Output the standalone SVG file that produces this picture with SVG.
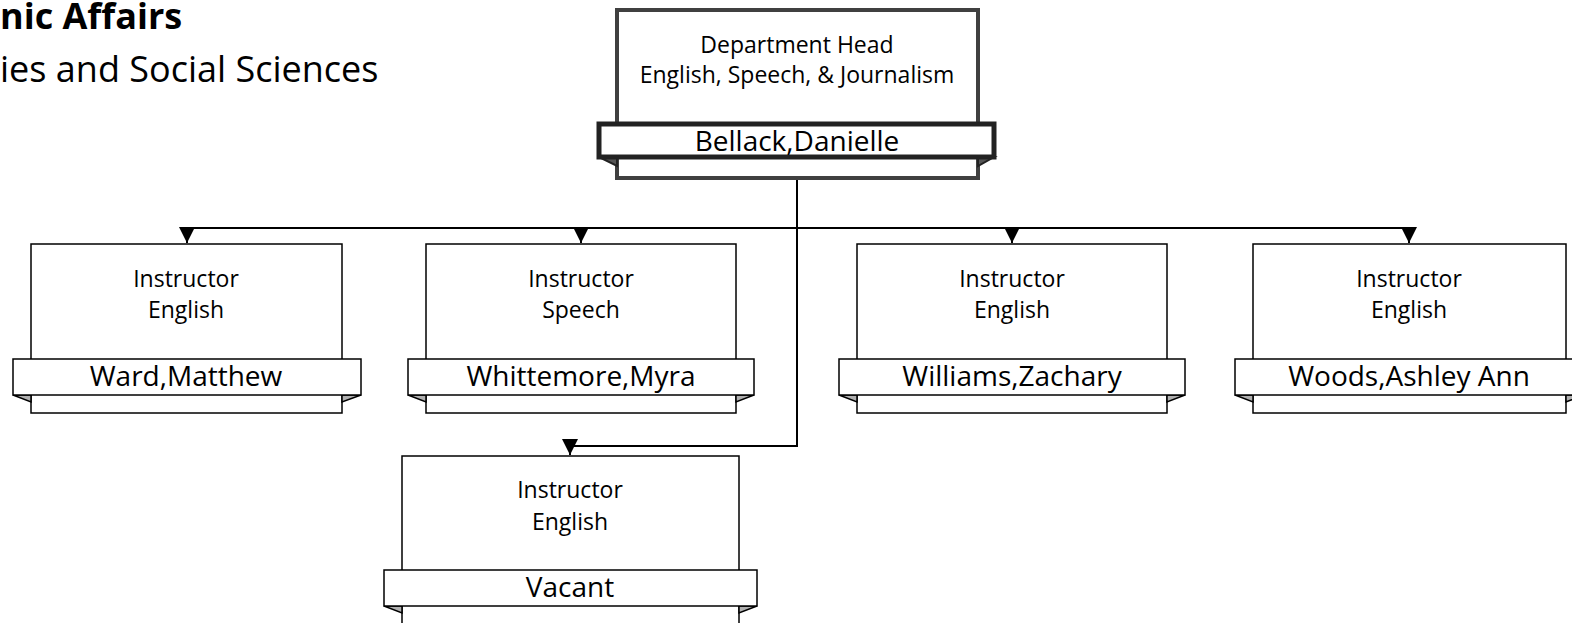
<svg xmlns="http://www.w3.org/2000/svg" width="1572" height="623" viewBox="0 0 1572 623">
<style>
text{font-family:"Open Sans","Noto Sans",sans-serif;fill:#000}
.t{font-size:23px;text-anchor:middle}
.n{font-size:28px;text-anchor:middle}
.box{fill:#fff;stroke:#000;stroke-width:1.5}
.ban{fill:#fff;stroke:#000;stroke-width:1.5}
.fold{fill:#b0b0b0;stroke:#000;stroke-width:1.5}
.hbox{fill:#fff;stroke:#404040;stroke-width:4}
.hban{fill:#fff;stroke:#222;stroke-width:5}
.hfold{fill:#555;stroke:#222;stroke-width:2}
.c{fill:none;stroke:#000;stroke-width:2}
</style>
<defs>
<marker id="a" markerWidth="16" markerHeight="16" viewBox="0 0 16 16" refX="16" refY="8" orient="auto" markerUnits="userSpaceOnUse">
<path d="M0,0 L16,8 L0,16 Z" fill="#000"/>
</marker>
</defs>
<g id="title">
<text x="0" y="29" style="font-size:36px;font-weight:bold">nic Affairs</text>
<text x="0" y="82" style="font-size:36px">ies and Social Sciences</text>
</g>
<g id="connectors">
<path class="c" d="M797,180 V446 H570"/>
<path class="c" d="M570,446 V455" marker-end="url(#a)"/>
<path class="c" d="M187,228 H1409"/>
<path class="c" d="M187,228 V243" marker-end="url(#a)"/>
<path class="c" d="M581,228 V243" marker-end="url(#a)"/>
<path class="c" d="M1012,228 V243" marker-end="url(#a)"/>
<path class="c" d="M1409,228 V243" marker-end="url(#a)"/>
</g>
<g id="head">
<rect class="hbox" x="617" y="10" width="361" height="168"/>
<polygon class="hfold" points="599,157 617,157 617,166"/>
<polygon class="hfold" points="994,157 978,157 978,166"/>
<rect class="hban" x="599" y="124" width="395" height="33"/>
<text class="t" x="797" y="53" fill="#222">Department Head</text>
<text class="t" x="797" y="83">English, Speech, &amp; Journalism</text>
<text class="n" x="797" y="151">Bellack,Danielle</text>
</g>
<g id="ward">
<rect class="box" x="31" y="244" width="311" height="169"/>
<polygon class="fold" points="13,395 31,395 31,402"/>
<polygon class="fold" points="361,395 342,395 342,402"/>
<rect class="ban" x="13" y="359" width="348" height="36"/>
<text class="t" x="186" y="287">Instructor</text>
<text class="t" x="186" y="318">English</text>
<text class="n" x="186" y="386">Ward,Matthew</text>
</g>
<g id="whittemore">
<rect class="box" x="426" y="244" width="310" height="169"/>
<polygon class="fold" points="408,395 426,395 426,402"/>
<polygon class="fold" points="754,395 736,395 736,402"/>
<rect class="ban" x="408" y="359" width="346" height="36"/>
<text class="t" x="581" y="287">Instructor</text>
<text class="t" x="581" y="318">Speech</text>
<text class="n" x="581" y="386">Whittemore,Myra</text>
</g>
<g id="williams">
<rect class="box" x="857" y="244" width="310" height="169"/>
<polygon class="fold" points="839,395 857,395 857,402"/>
<polygon class="fold" points="1185,395 1167,395 1167,402"/>
<rect class="ban" x="839" y="359" width="346" height="36"/>
<text class="t" x="1012" y="287">Instructor</text>
<text class="t" x="1012" y="318">English</text>
<text class="n" x="1012" y="386">Williams,Zachary</text>
</g>
<g id="woods">
<rect class="box" x="1253" y="244" width="313" height="169"/>
<polygon class="fold" points="1235,395 1253,395 1253,402"/>
<polygon class="fold" points="1584,395 1566,395 1566,402"/>
<rect class="ban" x="1235" y="359" width="349" height="36"/>
<text class="t" x="1409" y="287">Instructor</text>
<text class="t" x="1409" y="318">English</text>
<text class="n" x="1409" y="386">Woods,Ashley Ann</text>
</g>
<g id="vacant">
<rect class="box" x="402" y="456" width="337" height="180"/>
<polygon class="fold" points="384,606 402,606 402,613"/>
<polygon class="fold" points="757,606 739,606 739,613"/>
<rect class="ban" x="384" y="570" width="373" height="36"/>
<text class="t" x="570" y="498">Instructor</text>
<text class="t" x="570" y="530">English</text>
<text class="n" x="570" y="597">Vacant</text>
</g>
</svg>
